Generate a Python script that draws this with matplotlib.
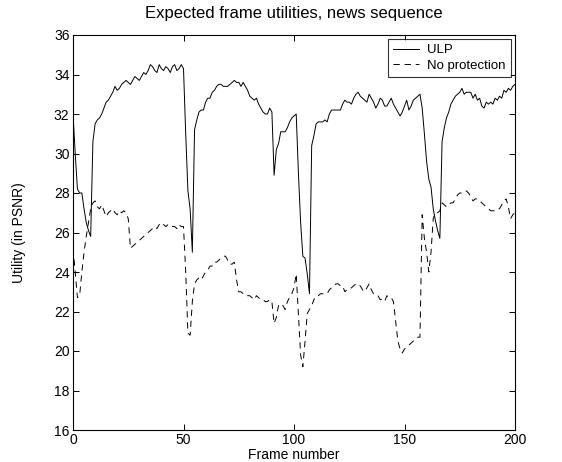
import numpy as np
import matplotlib
matplotlib.use("Agg")
import matplotlib.pyplot as plt

# frame numbers 0..200
frames = np.arange(0, 201)

# expected utility with ULP (PSNR)
ulp = [
    32.0, 30.0, 28.2, 28.0, 28.0, 27.2, 26.5, 26.1, 25.8, 30.6,
    31.5, 31.7, 31.8, 32.0, 32.3, 32.6, 32.7, 32.9, 33.1, 33.4,
    33.2, 33.3, 33.5, 33.6, 33.7, 33.6, 33.5, 33.7, 33.9, 33.8,
    33.7, 33.9, 34.1, 34.0, 34.2, 34.5, 34.4, 34.2, 34.1, 34.5,
    34.3, 34.2, 34.4, 34.3, 34.1, 34.4, 34.5, 34.2, 34.3, 34.5,
    34.3, 31.0, 28.1, 27.2, 25.0, 31.2, 31.7, 32.1, 32.2, 32.2,
    32.6, 32.8, 32.8, 33.1, 33.2, 33.4, 33.5, 33.5, 33.4, 33.4,
    33.4, 33.5, 33.6, 33.7, 33.6, 33.6, 33.4, 33.6, 33.4, 33.2,
    32.9, 32.8, 32.7, 32.8, 32.5, 32.3, 32.1, 32.0, 32.0, 32.3,
    32.1, 28.9, 30.2, 30.5, 31.1, 31.1, 31.1, 31.3, 31.6, 31.8,
    31.9, 32.0, 29.0, 26.5, 24.8, 24.7, 23.9, 22.9, 30.4, 30.9,
    31.5, 31.6, 31.6, 31.6, 31.7, 31.6, 32.0, 32.2, 32.2, 32.2,
    32.2, 32.2, 32.5, 32.7, 32.6, 32.6, 32.5, 32.8, 33.0, 33.1,
    32.9, 32.8, 32.7, 32.6, 33.0, 32.8, 32.6, 32.3, 32.5, 32.8,
    32.7, 32.4, 32.4, 32.6, 32.8, 32.5, 32.3, 32.1, 31.9, 32.1,
    32.4, 32.7, 32.2, 32.4, 32.7, 32.8, 32.9, 33.0, 32.3, 31.0,
    29.6, 28.7, 28.3, 27.2, 26.6, 26.1, 25.7, 30.6, 31.3, 31.8,
    32.1, 32.5, 32.7, 32.9, 33.0, 33.1, 33.3, 33.0, 33.1, 33.1,
    33.1, 32.8, 33.0, 32.7, 32.8, 32.4, 32.3, 32.6, 32.5, 32.6,
    32.5, 32.8, 32.7, 32.9, 32.8, 33.2, 33.1, 33.3, 33.2, 33.4,
    33.5,
]

# expected utility without protection (PSNR)
noprot = [
    25.2, 24.0, 22.7, 22.8, 24.0, 25.0, 25.8, 26.5, 27.2, 27.5,
    27.6, 27.3, 27.2, 27.4, 27.1, 26.8, 27.0, 27.1, 27.2, 27.0,
    26.9, 27.1, 27.0, 27.1, 27.0, 26.7, 25.2, 25.3, 25.4, 25.5,
    25.6, 25.7, 25.8, 25.9, 26.0, 26.1, 26.2, 26.3, 26.2, 26.4,
    26.5, 26.4, 26.3, 26.4, 26.4, 26.3, 26.3, 26.2, 26.4, 26.3,
    26.3, 24.0, 20.9, 20.8, 22.5, 23.4, 23.6, 23.7, 23.6, 23.8,
    24.0, 24.1, 24.3, 24.3, 24.5, 24.5, 24.6, 24.7, 24.8, 24.8,
    24.6, 24.4, 24.4, 24.5, 23.6, 23.0, 23.0, 22.9, 22.9, 22.8,
    22.8, 22.7, 22.6, 22.8, 22.7, 22.6, 22.6, 22.5, 22.5, 22.6,
    22.5, 21.4, 21.7, 22.3, 22.4, 22.3, 22.1, 22.5, 22.7, 22.9,
    23.2, 23.9, 21.9, 19.8, 19.2, 20.5, 21.9, 22.1, 22.3, 22.6,
    22.8, 22.8, 22.9, 22.9, 22.9, 22.9, 23.1, 23.2, 23.3, 23.4,
    23.4, 23.3, 23.3, 23.0, 23.1, 23.1, 23.2, 23.3, 23.4, 23.3,
    23.3, 23.1, 23.0, 23.2, 23.4, 23.1, 22.9, 22.9, 22.8, 22.6,
    22.6, 22.5, 22.8, 22.7, 22.7, 22.5, 21.5, 20.5, 20.1, 19.9,
    20.1, 20.2, 20.3, 20.4, 20.5, 20.6, 20.7, 20.7, 26.9, 25.7,
    25.0, 24.0, 25.0, 26.7, 27.0, 27.0, 27.1, 27.5, 27.4, 27.3,
    27.4, 27.5, 27.5, 27.7, 27.9, 28.0, 28.0, 28.1, 28.1, 28.0,
    27.8, 27.6, 27.7, 27.7, 27.6, 27.5, 27.4, 27.3, 27.2, 27.1,
    27.1, 27.1, 27.2, 27.2, 27.4, 27.6, 27.7, 27.3, 26.7, 26.9,
    27.0,
]

xticks = [0, 50, 100, 150, 200]
yticks = [16, 18, 20, 22, 24, 26, 28, 30, 32, 34, 36]

plt.rcParams['font.family'] = ['Liberation Sans', 'DejaVu Sans']
plt.rcParams['font.size'] = 10
plt.rcParams['lines.scale_dashes'] = False

fig = plt.figure(figsize=(5.62, 4.62), dpi=100)
ax = fig.add_axes([73 / 562, 1 - 430 / 462, (515 - 73) / 562, (430 - 35) / 462])

ax.plot(frames, ulp, color='black', linewidth=0.7, label='ULP')
ax.plot(frames, noprot, color='black', linewidth=0.7, dashes=(4.5, 3.5), label='No protection')

ax.set_xlim(0, 200)
ax.set_ylim(16, 36)
ax.set_xticks(xticks)
ax.set_yticks(yticks)
ax.tick_params(direction='in', top=True, right=True, length=4, width=0.7, pad=2.5)
for s in ax.spines.values():
    s.set_linewidth(0.8)

ax.set_title('Expected frame utilities, news sequence', fontsize=12, pad=12)
ax.set_xlabel('Frame number', labelpad=0.5)
ax.set_ylabel('Utility (in PSNR)', labelpad=20)

leg = ax.legend(loc='upper right', frameon=True, fancybox=False, borderaxespad=0.3,
                handlelength=2.0, handletextpad=0.6, borderpad=0.4, labelspacing=0.25,
                fontsize=9.5)
leg.get_frame().set_edgecolor('black')
leg.get_frame().set_linewidth(0.8)

fig.savefig('out.png', dpi=100)
